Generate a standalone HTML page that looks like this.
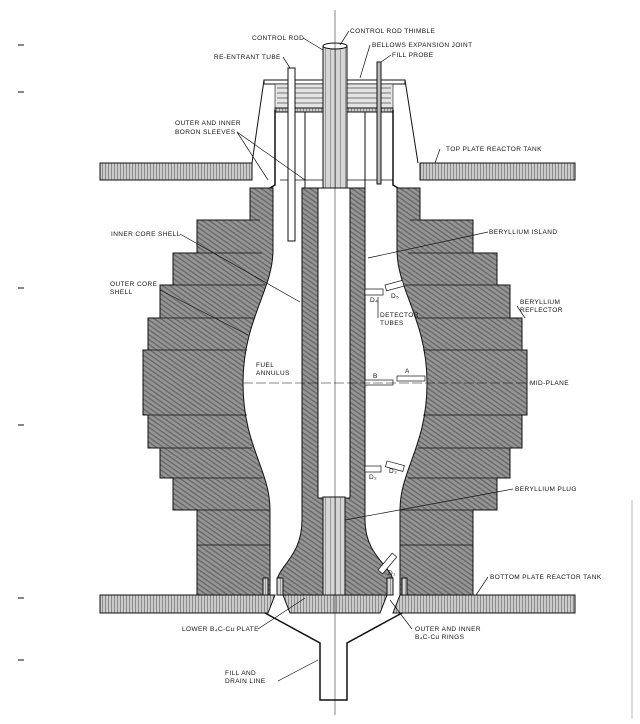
<!DOCTYPE html>
<html><head><meta charset="utf-8"><style>
body{margin:0;background:#fff}
svg text{font-family:"Liberation Sans",sans-serif;font-size:6.5px;fill:#111;letter-spacing:0.4px}
</style></head><body>
<svg width="640" height="719" viewBox="0 0 640 719" xmlns="http://www.w3.org/2000/svg">
<defs>
<pattern id="h" width="4" height="4" patternUnits="userSpaceOnUse" patternTransform="rotate(35)">
<rect width="4" height="4" fill="#959595"/><rect width="4" height="1.4" fill="#686868"/>
</pattern>
<pattern id="p" width="3" height="3" patternUnits="userSpaceOnUse">
<rect width="3" height="3" fill="#cacaca"/><rect width="1" height="3" fill="#8e8e8e"/>
</pattern>
<pattern id="l" width="5" height="4" patternUnits="userSpaceOnUse">
<rect width="5" height="4" fill="#d6d6d6"/><rect width="1" height="4" fill="#999"/>
</pattern>
</defs>
<g stroke="#111" stroke-width="1" fill="none">
<rect x="100" y="163" width="152" height="17" fill="url(#p)"/>
<rect x="420" y="163" width="155" height="17" fill="url(#p)"/>
<path d="M100 595 H275 L268 613 H100Z" fill="url(#p)"/>
<path d="M283 595 H387 L380 613 H290Z" fill="url(#p)"/>
<path d="M400 595 H575 V613 H393Z" fill="url(#p)"/>
<path d="M250 188 V220 H197 V253 H173 V285 H160 V318 H148 V350 H143 V415 H148 V448 H160 V478 H173 V510 H197 V595 H270 V510 C270 470 243 446 243 383 C243 320 273 290 273 250 V188Z" fill="url(#h)"/>
<path d="M420 188 V220 H473 V253 H497 V285 H510 V318 H522 V350 H527 V415 H522 V448 H510 V478 H497 V510 H473 V595 H400 V510 C400 470 427 446 427 383 C427 320 397 290 397 250 V188Z" fill="url(#h)"/>
<g stroke-width="0.8">
<path d="M197 220H260M173 253H262M160 285H265M148 318H255M143 350H247M143 415H247M148 448H252M160 478H262M173 510H270M197 545H270"/>
<path d="M473 220H410M497 253H408M510 285H405M522 318H415M527 350H423M527 415H423M522 448H418M510 478H408M497 510H400M473 545H400"/>
</g>
<path d="M302 188 V520 C302 555 280 565 277 580 V595 H393 V580 C390 565 365 555 365 520 V188Z" fill="url(#h)"/>
<rect x="318" y="188" width="32" height="310" fill="#fff"/>
<rect x="323" y="497" width="22" height="98" fill="url(#l)"/>
<rect x="277" y="578" width="6" height="17" fill="url(#l)"/>
<rect x="387" y="578" width="6" height="17" fill="url(#l)"/>
<rect x="263" y="578" width="5" height="17" fill="url(#l)"/>
<rect x="402" y="578" width="5" height="17" fill="url(#l)"/>
<path d="M264 80 H405 V84 H264Z" />
<rect x="275" y="84" width="118" height="26" fill="#e4e4e4" stroke-width="0.6"/>
<path d="M277 88H391M277 93H391M277 98H391M277 103H391" stroke="#999" stroke-width="1.5"/>
<rect x="275" y="108" width="118" height="4" fill="url(#p)"/>
<path d="M264 80 L252 163M405 80 L418 163"/>
<path d="M275 110 V185 L270 188M393 110 V185 L398 188" stroke-width="1.5"/>
<path d="M305 112 V188M365 112 V188"/>
<path d="M280 180 H393" stroke-width="0.8"/>
<rect x="288" y="68" width="7" height="173" fill="#fff"/>
<rect x="377" y="62" width="4" height="122" fill="#bbb"/>
<rect x="323" y="46" width="24" height="142" fill="url(#l)"/>
<ellipse cx="335" cy="46" rx="12" ry="3" fill="#fff"/>
<path d="M265 613 L320 643 V700 H347 V643 L402 613" stroke-width="1.5"/>
<rect x="365" y="289" width="18" height="6" fill="#fff" stroke-width="0.7"/>
<rect x="385" y="285" width="18" height="6" fill="#fff" stroke-width="0.7" transform="rotate(-15 385 285)"/>
<rect x="365" y="380" width="28" height="5" fill="#fff" stroke-width="0.7"/>
<rect x="397" y="376" width="28" height="5" fill="#fff" stroke-width="0.7"/>
<rect x="365" y="466" width="16" height="6" fill="#fff" stroke-width="0.7"/>
<rect x="387" y="461" width="18" height="6" fill="#fff" stroke-width="0.7" transform="rotate(15 387 461)"/>
<rect x="378" y="570" width="22" height="6" fill="#fff" stroke-width="0.7" transform="rotate(-50 378 570)"/>
<path d="M335 10 V715" stroke-width="0.5"/>
<path d="M243 383 H530" stroke-width="0.5" stroke-dasharray="10 3"/>
<g stroke-width="0.7">
<path d="M303 38 L323 50M349 31 L340 45M370 45 L360 78M391 55 L381 62M283 57 L290 68"/>
<path d="M237 132 L268 180M237 132 L305 180M440 149 L435 163"/>
<path d="M180 234 L300 302M488 232 L368 258M160 290 L248 335"/>
<path d="M378 318 L378 297M517 306 L525 318M513 489 L345 520"/>
<path d="M488 577 L476 595M258 629 L305 598M412 629 L390 600M278 681 L318 660"/>
</g>
<path d="M18 45H24M18 92H24M18 288H24M18 425H24M18 598H24M18 660H24" stroke-width="1"/>
<path d="M632 500 V719" stroke="#bbb"/>
</g>
<text x="252" y="40">CONTROL ROD</text>
<text x="350" y="33">CONTROL ROD THIMBLE</text>
<text x="372" y="47">BELLOWS EXPANSION JOINT</text>
<text x="392" y="57">FILL PROBE</text>
<text x="214" y="59">RE-ENTRANT TUBE</text>
<text x="175" y="125">OUTER AND INNER</text>
<text x="175" y="134">BORON SLEEVES</text>
<text x="446" y="151">TOP PLATE REACTOR TANK</text>
<text x="111" y="236">INNER CORE SHELL</text>
<text x="489" y="234">BERYLLIUM ISLAND</text>
<text x="110" y="286">OUTER CORE</text>
<text x="110" y="294">SHELL</text>
<text x="520" y="304">BERYLLIUM</text>
<text x="520" y="312">REFLECTOR</text>
<text x="370" y="302">D₄</text>
<text x="391" y="298">D₅</text>
<text x="380" y="317">DETECTOR</text>
<text x="380" y="325">TUBES</text>
<text x="256" y="367">FUEL</text>
<text x="256" y="375">ANNULUS</text>
<text x="373" y="378">B</text>
<text x="405" y="373">A</text>
<text x="530" y="385">MID-PLANE</text>
<text x="369" y="479">D₂</text>
<text x="389" y="473">D₃</text>
<text x="515" y="491">BERYLLIUM PLUG</text>
<text x="388" y="575">D₁</text>
<text x="490" y="579">BOTTOM PLATE REACTOR TANK</text>
<text x="182" y="631">LOWER B₄C-Cu PLATE</text>
<text x="415" y="631">OUTER AND INNER</text>
<text x="415" y="639">B₄C-Cu RINGS</text>
<text x="225" y="675">FILL AND</text>
<text x="225" y="683">DRAIN LINE</text>
</svg>
</body></html>
